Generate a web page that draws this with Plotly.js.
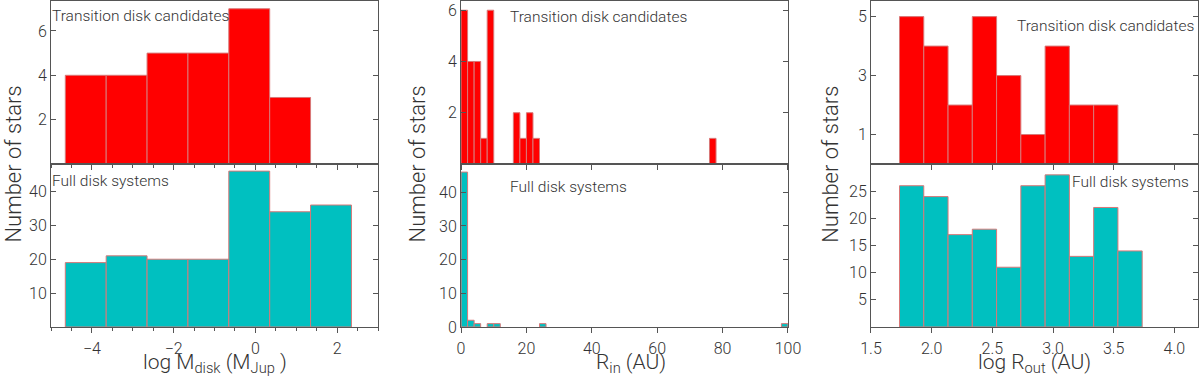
<!DOCTYPE html>
<html>
<head>
<meta charset="utf-8">
<script src="https://cdn.plot.ly/plotly-3.0.1.min.js"></script>
<style>
  html, body { margin: 0; padding: 0; background: #fff; }
  #chart { width: 1200px; height: 377px; }
</style>
</head>
<body>
<div id="chart"></div>
<script>
// --- histogram data ---
// disk mass, bins of width 1 in log M_disk
const massCenters = [-4.15, -3.15, -2.15, -1.15, -0.15, 0.85, 1.85];
const massTrans = [4, 4, 5, 5, 7, 3];
const massFull = [19, 21, 20, 20, 46, 34, 36];

// inner radius, bins of 2 AU (only the non-empty ones)
const rinTransCenters = [1, 3, 5, 7, 9, 17, 19, 21, 23, 77];
const rinTransCounts = [6, 4, 4, 1, 6, 2, 1, 2, 1, 1];
const rinFullCenters = [1, 3, 5, 9, 11, 25, 99];
const rinFullCounts = [46, 2, 1, 1, 1, 1, 1];

// outer radius, bins of 0.2 in log R_out
const routCenters = [1.835, 2.035, 2.235, 2.435, 2.635, 2.835, 3.035, 3.235, 3.435, 3.635];
const routTrans = [5, 4, 2, 5, 3, 1, 4, 2, 2];
const routFull = [26, 24, 17, 18, 11, 26, 28, 13, 22, 14];

// tick labels
const massTicksTop = [2, 4, 6];
const massTicksBot = [10, 20, 30, 40];
const rinTicksTop = [2, 4, 6];
const rinTicksBot = [0, 10, 20, 30, 40];
const routTicksTop = [1, 3, 5];
const routTicksBot = [5, 10, 15, 20, 25];

const RED = '#ff0000';
const CYAN = '#00c0c0';
const EDGE = '#d87878';
const AXC = '#555';
const TXT = '#333';
const FONT = 'Roboto, Liberation Sans, Arial, sans-serif';
const W = 300;

function bars(x, y, width, color, xa, ya) {
  return {
    type: 'bar', x: x.slice(0, y.length), y: y, width: width,
    xaxis: xa, yaxis: ya,
    marker: { color: color, line: { color: EDGE, width: 1 } },
    hoverinfo: 'x+y', showlegend: false
  };
}

const traces = [
  bars(massCenters, massTrans, 1, RED, 'x', 'y'),
  bars(massCenters, massFull, 1, CYAN, 'x2', 'y2'),
  bars(rinTransCenters, rinTransCounts, 2, RED, 'x3', 'y3'),
  bars(rinFullCenters, rinFullCounts, 2, CYAN, 'x4', 'y4'),
  bars(routCenters, routTrans, 0.2, RED, 'x5', 'y5'),
  bars(routCenters, routFull, 0.2, CYAN, 'x6', 'y6')
];

const colDom = [[0, 0.2851], [0.3575, 0.6425], [0.7149, 1]];
const topDom = [0.5, 1];
const botDom = [0, 0.5];

function xax(dom, range, anchor, labels, extra) {
  return Object.assign({
    domain: dom, range: range, anchor: anchor,
    showline: true, linecolor: AXC, linewidth: 1, mirror: true,
    ticks: 'outside', ticklen: 5, tickcolor: AXC,
    showgrid: false, zeroline: false,
    showticklabels: labels, ticklabelstandoff: 2,
    tickfont: { size: 16, color: TXT, family: FONT, weight: W }
  }, extra);
}
function yax(dom, range, anchor, vals) {
  return {
    domain: dom, range: range, anchor: anchor,
    showline: true, linecolor: AXC, linewidth: 1, mirror: 'ticks',
    ticks: 'inside', ticklen: 5, tickcolor: AXC,
    tickmode: 'array', tickvals: vals,
    showgrid: false, zeroline: false,
    tickfont: { size: 16, color: TXT, family: FONT, weight: W }
  };
}

const massX = { dtick: 2, tick0: 0, minor: { dtick: 0.5, ticklen: 3, ticks: 'outside', tickcolor: AXC } };
const rinX = { dtick: 20, tick0: 0 };
const routX = { dtick: 0.5, tick0: 1.5, tickformat: '.1f' };

const layout = {
  width: 1200, height: 377,
  margin: { l: 51, r: 2, t: 1, b: 50 },
  paper_bgcolor: '#fff', plot_bgcolor: '#fff',
  bargap: 0,
  font: { family: FONT, color: TXT, weight: W },
  xaxis: xax(colDom[0], [-5, 3], 'y', false, massX),
  yaxis: yax(topDom, [0, 7.35], 'x', massTicksTop),
  xaxis2: xax(colDom[0], [-5, 3], 'y2', true, massX),
  yaxis2: yax(botDom, [0, 48.1], 'x2', massTicksBot),
  xaxis3: xax(colDom[1], [0, 100], 'y3', false, rinX),
  yaxis3: yax(topDom, [0, 6.36], 'x3', rinTicksTop),
  xaxis4: xax(colDom[1], [0, 100], 'y4', true, rinX),
  yaxis4: yax(botDom, [0, 48.4], 'x4', rinTicksBot),
  xaxis5: xax(colDom[2], [1.5, 4.195], 'y5', false, routX),
  yaxis5: yax(topDom, [0, 5.53], 'x5', routTicksTop),
  xaxis6: xax(colDom[2], [1.5, 4.195], 'y6', true, routX),
  yaxis6: yax(botDom, [0, 30], 'x6', routTicksBot),
  annotations: []
};

function note(text, xref, yref, x, y) {
  return { text: text, xref: xref, yref: yref, x: x, y: y, xanchor: 'left', yanchor: 'middle',
           showarrow: false, font: { size: 15.5, color: TXT, family: FONT, weight: W } };
}
layout.annotations.push(
  note('Transition disk candidates', 'x domain', 'y domain', -0.002, 0.905),
  note('Full disk systems', 'x2 domain', 'y2 domain', -0.002, 0.893),
  note('Transition disk candidates', 'x3 domain', 'y3 domain', 0.145, 0.90),
  note('Full disk systems', 'x4 domain', 'y4 domain', 0.145, 0.856),
  note('Transition disk candidates', 'x5 domain', 'y5 domain', 0.44, 0.845),
  note('Full disk systems', 'x6 domain', 'y6 domain', 0.61, 0.887)
);

// axis titles
const yTitleX = [-0.0335, 0.3195, 0.679];
yTitleX.forEach(function (xp) {
  layout.annotations.push({ text: 'Number of stars', xref: 'paper', yref: 'paper', x: xp, y: 0.5,
    textangle: -90, showarrow: false, xanchor: 'center', yanchor: 'middle',
    font: { size: 22, color: TXT, family: FONT, weight: W } });
});
const xTitles = [
  ['x2 domain', 0.5, 'log M<sub>disk</sub> (M<sub>Jup</sub> )'],
  ['x4 domain', 0.52, 'R<sub>in</sub> (AU)'],
  ['x6 domain', 0.5, 'log R<sub>out</sub> (AU)']
];
xTitles.forEach(function (t) {
  layout.annotations.push({ text: t[2], xref: t[0], yref: 'paper', x: t[1], y: -0.112,
    showarrow: false, xanchor: 'center', yanchor: 'middle',
    font: { size: 21, color: TXT, family: FONT, weight: W } });
});

Plotly.newPlot('chart', traces, layout, { displayModeBar: false, staticPlot: true });
</script>
</body>
</html>
